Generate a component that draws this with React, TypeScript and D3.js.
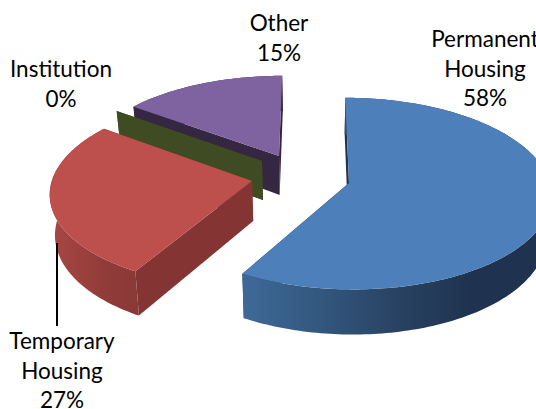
import React from "react";
import * as d3 from "d3";

const categories = ["Permanent Housing", "Temporary Housing", "Institution", "Other"];
const shares = [58, 27, 0, 15];

// Label text broken over lines, centred on the given anchor.
const labelLines = [["Permanent", "Housing"], ["Temporary", "Housing"], ["Institution"], ["Other"]];
const labelAnchors = [
  { x: 485, y: 47 },
  { x: 62, y: 349 },
  { x: 61, y: 77 },
  { x: 279, y: 31 },
];

// Pulled-out apex of each wedge on the page.
const apexes = [
  { x: 349, y: 183 },
  { x: 252, y: 181 },
  { x: 262, y: 161 },
  { x: 279, y: 156 },
];

const palette = [
  { top: "#4d7fba", cut: "#1f3350", wall: ["#3e6997", "#33577f", "#294363", "#1f3350"] },
  { top: "#bd4f4c", cut: "#843533", wall: ["#a64643", "#9a403d", "#8f3b39", "#8a3937"] },
  { top: "#3f4b22", cut: "#3f4b22", wall: ["#3f4b22", "#3f4b22", "#3f4b22", "#3f4b22"] },
  { top: "#7f63a1", cut: "#352641", wall: ["#352641", "#352641", "#352641", "#352641"] },
];

const WIDTH = 536;
const HEIGHT = 409;
const CX = 312;
const CY = 180;
const RX = 200;
const RY = 94;
const PERSPECTIVE = 0.11;
const DEPTH = 40;
const DEPTH_SHRINK = 0.02;
// Slight skew of the view: angles near the front-left of the pie lead a little.
const ANGLE_SKEW = 0.02;

const xScale = d3.scaleLinear().domain([-1, 1]).range([CX - RX, CX + RX]);
const yScale = d3.scaleLinear().domain([-1, 1]).range([CY - RY, CY + RY]);

type Pt = [number, number];

const foreshorten = (wy: number) => 1 / (1 - PERSPECTIVE * wy);

const project = (wx: number, wy: number): Pt => {
  const s = foreshorten(wy);
  return [xScale(wx * s), yScale(wy * s)];
};

const lower = (wx: number, wy: number): Pt => {
  const [x, y] = project(wx, wy);
  return [CX + (x - CX) * (1 - DEPTH_SHRINK), y + DEPTH * foreshorten(wy)];
};

const unproject = (x: number, y: number): Pt => {
  const t = yScale.invert(y);
  const wy = t / (1 + PERSPECTIVE * t);
  return [xScale.invert(x) / foreshorten(wy), wy];
};

const pie = d3.pie<number>().sort(null).value((d) => d);
const wedges = pie(shares);
const path = d3.line<Pt>();

const rimAngles = (a0: number, a1: number) => {
  const n = Math.max(2, Math.ceil((a1 - a0) / 0.02));
  return d3.range(n + 1).map((i) => a0 + ((a1 - a0) * i) / n);
};

const slices = wedges.map((w, i) => {
  const [ax, ay] = unproject(apexes[i].x, apexes[i].y);
  const rim = (a: number): Pt => {
    const b = a + ANGLE_SKEW * Math.sin(a / 2) ** 2;
    return [ax + Math.sin(b), ay - Math.cos(b)];
  };
  const angles = rimAngles(w.startAngle, w.endAngle);
  const topRim = angles.map((a) => project(...rim(a)));
  const lowRim = angles.map((a) => lower(...rim(a)));
  const apexTop = project(ax, ay);
  const apexLow = lower(ax, ay);
  const edgeWall = (a: number): Pt[] => [apexTop, project(...rim(a)), lower(...rim(a)), apexLow];
  return {
    top: path([apexTop, ...topRim])! + "Z",
    startWall: path(edgeWall(w.startAngle))! + "Z",
    endWall: path(edgeWall(w.endAngle))! + "Z",
    outerWall: path([...topRim, ...lowRim.slice().reverse()])! + "Z",
    colors: palette[i],
  };
});

export default function App() {
  return (
    <svg
      width={WIDTH}
      height={HEIGHT}
      viewBox={`0 0 ${WIDTH} ${HEIGHT}`}
      style={{ position: "absolute", left: 0, top: 0, display: "block", background: "#fff" }}
    >
      <defs>
        {slices.map((s, i) => (
          <linearGradient key={i} id={`wall-${i}`} gradientUnits="userSpaceOnUse" x1={i === 0 ? 244 : 56} x2={i === 0 ? 470 : 136} y1={0} y2={0}>
            {s.colors.wall.map((c, k) => (
              <stop key={k} offset={k / 3} stopColor={c} />
            ))}
          </linearGradient>
        ))}
      </defs>

      {/* Back to front: Other, Institution, Temporary, Permanent */}
      {[3, 2, 1, 0].map((i) => {
        const s = slices[i];
        return (
          <g key={categories[i]}>
            <path d={s.startWall} fill={s.colors.cut} />
            <path d={s.endWall} fill={s.colors.cut} />
            <path d={s.outerWall} fill={`url(#wall-${i})`} />
            <path d={s.top} fill={s.colors.top} />
          </g>
        );
      })}

      {/* Leader from the Temporary Housing label to its wedge */}
      <line x1={57} x2={57} y1={243} y2={326} stroke="#000" strokeWidth={2} />

      <g fontFamily="Lato, 'Open Sans', sans-serif" fontSize={22.5} fill="#000" textAnchor="middle">
        {categories.map((c, i) => {
          const lines = [...labelLines[i], `${shares[i]}%`];
          return (
            <text key={c}>
              {lines.map((t, k) => (
                <tspan key={k} x={labelAnchors[i].x} y={labelAnchors[i].y + k * 29.5}>
                  {t}
                </tspan>
              ))}
            </text>
          );
        })}
      </g>
    </svg>
  );
}
